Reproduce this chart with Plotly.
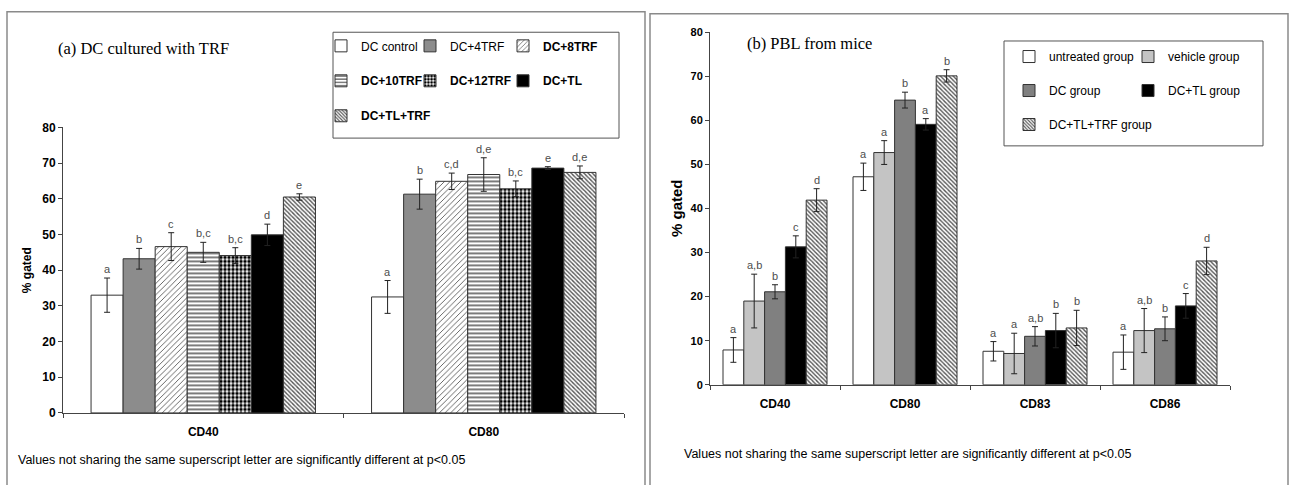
import plotly.graph_objects as go

W, H = 1291, 485

# ---------------- data ----------------
cats_a = ["CD40", "CD80"]
series_a = ["DC control", "DC+4TRF", "DC+8TRF", "DC+10TRF", "DC+12TRF", "DC+TL", "DC+TL+TRF"]
vals_a = [
    [33.0, 32.5],
    [43.2, 61.3],
    [46.6, 64.9],
    [45.0, 66.8],
    [44.1, 62.8],
    [49.9, 68.6],
    [60.5, 67.4],
]
errs_a = [
    [4.8, 4.6],
    [2.9, 4.2],
    [3.9, 2.3],
    [2.8, 4.7],
    [2.2, 2.2],
    [3.0, 0.4],
    [0.9, 1.8],
]
letters_a = [
    ["a", "a"],
    ["b", "b"],
    ["c", "c,d"],
    ["b,c", "d,e"],
    ["b,c", "b,c"],
    ["d", "e"],
    ["e", "d,e"],
]

cats_b = ["CD40", "CD80", "CD83", "CD86"]
series_b = ["untreated group", "vehicle group", "DC group", "DC+TL group", "DC+TL+TRF group"]
vals_b = [
    [7.9, 47.2, 7.6, 7.4],
    [19.0, 52.7, 7.1, 12.3],
    [21.1, 64.6, 11.0, 12.7],
    [31.3, 59.1, 12.3, 17.9],
    [41.9, 70.1, 12.9, 28.1],
]
errs_b = [
    [2.8, 3.1, 2.2, 3.9],
    [6.1, 2.7, 4.6, 5.0],
    [1.6, 1.8, 2.2, 2.7],
    [2.5, 1.3, 3.9, 2.8],
    [2.6, 1.4, 4.0, 3.1],
]
letters_b = [
    ["a", "a", "a", "a"],
    ["a,b", "a", "a", "a,b"],
    ["b", "b", "a,b", "b"],
    ["c", "a", "b", "c"],
    ["d", "b", "b", "d"],
]

yticks = [0, 10, 20, 30, 40, 50, 60, 70, 80]
note = "Values not sharing the same superscript letter are significantly different at p<0.05"

# ---------------- styles ----------------
SANS = "Liberation Sans, Arial, sans-serif"
SERIF = "Liberation Serif, Times New Roman, serif"
OUT = "#333333"

def hatch(shape, fg, size, sol, bg="white"):
    return dict(shape=shape, fgcolor=fg, bgcolor=bg, size=size, solidity=sol, fillmode="replace")

styles_a = [
    dict(color="white"),
    dict(color="#8c8c8c"),
    dict(color="white", pattern=hatch("/", "#555555", 4, 0.22)),
    dict(color="white", pattern=hatch("-", "#444444", 4, 0.35)),
    dict(color="white", pattern=hatch(".", "#000000", 4, 0.6)),
    dict(color="black"),
    dict(color="white", pattern=hatch("\\", "#555555", 3, 0.45)),
]
bold_a = [False, False, True, True, True, True, True]
# legend grid (column text start px, row centre px)
leg_col_a = [361, 450, 543]
leg_row_a = [45, 81, 117]

styles_b = [
    dict(color="white"),
    dict(color="#c4c4c4"),
    dict(color="#808080"),
    dict(color="black"),
    dict(color="white", pattern=hatch("\\", "#555555", 3, 0.45)),
]
leg_col_b = [1049, 1168]
leg_row_b = [56, 91, 126]

fig = go.Figure()
legend_layout = {}
leg_common = dict(orientation="h", xanchor="left", yanchor="middle", bgcolor="rgba(0,0,0,0)",
                  borderwidth=0, traceorder="normal", itemclick=False, itemdoubleclick=False,
                  font=dict(size=12, family=SANS))

def legend_slot(k, col_px, row_px):
    key = "legend" if k == 0 else f"legend{k + 1}"
    legend_layout[key] = dict(x=(col_px - 40) / W, y=(H - (row_px - 5)) / H, **leg_common)
    return key

k = 0
for i, name in enumerate(series_a):
    lg = legend_slot(k, leg_col_a[i % 3], leg_row_a[i // 3]); k += 1
    fig.add_trace(go.Bar(
        x=cats_a, y=vals_a[i], name=(f"<b>{name}</b>" if bold_a[i] else name),
        xaxis="x", yaxis="y",
        marker=dict(**styles_a[i], line=dict(color=OUT, width=1)),
        error_y=dict(type="data", array=errs_a[i], visible=True, color="#222222", thickness=1, width=3),
        legend=lg,
    ))

for i, name in enumerate(series_b):
    lg = legend_slot(k, leg_col_b[i % 2], leg_row_b[i // 2]); k += 1
    fig.add_trace(go.Bar(
        x=cats_b, y=vals_b[i], name=name,
        xaxis="x2", yaxis="y2",
        marker=dict(**styles_b[i], line=dict(color=OUT, width=1)),
        error_y=dict(type="data", array=errs_b[i], visible=True, color="#222222", thickness=1, width=3),
        legend=lg,
    ))

BARGAP = 0.2
xdom_a = [63 / W, 624 / W]
ydom_a = [(H - 418) / H, (H - 124) / H]
xdom_b = [710 / W, 1230 / W]
ydom_b = [(H - 389) / H, (H - 26) / H]

# significance letters above the error bars
def add_letters(cats, vals, errs, letters, xdom, xref, yref):
    n = len(vals)
    cat_px = (xdom[1] - xdom[0]) * W / len(cats)
    bw = cat_px * (1 - BARGAP) / n
    for i in range(n):
        for j, c in enumerate(cats):
            fig.add_annotation(
                x=c, y=vals[i][j] + errs[i][j], xref=xref, yref=yref,
                text=letters[i][j], showarrow=False, yanchor="bottom", yshift=1,
                xshift=(i - (n - 1) / 2) * bw,
                font=dict(family=SANS, size=11, color="#4d4d4d"),
            )

add_letters(cats_a, vals_a, errs_a, letters_a, xdom_a, "x", "y")
add_letters(cats_b, vals_b, errs_b, letters_b, xdom_b, "x2", "y2")

axis_common = dict(showgrid=False, zeroline=False, showline=True, linecolor="#444444", linewidth=1,
                   ticks="outside", ticklen=4, tickcolor="#444444")

fig.update_layout(
    width=W, height=H, margin=dict(l=0, r=0, t=0, b=0),
    paper_bgcolor="white", plot_bgcolor="white",
    barmode="group", bargap=BARGAP, bargroupgap=0,
    font=dict(family=SANS, color="black"),
    xaxis=dict(domain=xdom_a, anchor="y", type="category", categoryarray=cats_a, tickson="boundaries",
               tickfont=dict(size=12, family=SANS, weight="bold"), ticklabelstandoff=8, **axis_common),
    yaxis=dict(domain=ydom_a, anchor="x", range=[0, 80], tickvals=yticks,
               tickfont=dict(size=12, family=SANS, weight="bold"), **axis_common),
    xaxis2=dict(domain=xdom_b, anchor="y2", type="category", categoryarray=cats_b, tickson="boundaries",
                tickfont=dict(size=12, family=SANS, weight="bold"), ticklabelstandoff=8, **axis_common),
    yaxis2=dict(domain=ydom_b, anchor="x2", range=[0, 80], tickvals=yticks,
                tickfont=dict(size=11, family=SANS, weight="bold"), **axis_common),
    showlegend=True,
    **legend_layout,
)

def px_rect(x0, y0, x1, y1, color, width):
    return dict(type="rect", xref="paper", yref="paper", x0=x0 / W, x1=x1 / W,
                y0=(H - y1) / H, y1=(H - y0) / H, line=dict(color=color, width=width),
                fillcolor="rgba(0,0,0,0)", layer="above")

shapes = [
    px_rect(7, 5, 645, 495, "#8a8a8a", 1.5),
    px_rect(650, 7, 1288, 495, "#8a8a8a", 1.5),
    px_rect(333, 26, 619, 135, "#555555", 1),
    px_rect(1004, 35, 1263, 143, "#555555", 1),
]
fig.update_layout(shapes=shapes)

def txt(x, y, s, size, family=SANS, anchor="left", bold=False, angle=0):
    fig.add_annotation(x=x / W, y=(H - y) / H, xref="paper", yref="paper", text=(f"<b>{s}</b>" if bold else s),
                       showarrow=False, xanchor=anchor, yanchor="middle", textangle=angle,
                       font=dict(family=family, size=size, color="black"))

txt(56, 43, "(a) DC cultured with TRF", 16.5, SERIF)
txt(745, 38, "(b) PBL from mice", 16.5, SERIF)
txt(16, 466, note, 12.5)
txt(682, 460, note, 12.5)
txt(27, 271, "% gated", 12, anchor="center", bold=True, angle=-90)
txt(676, 207, "% gated", 15, anchor="center", bold=True, angle=-90)

fig.write_html("out.html")
